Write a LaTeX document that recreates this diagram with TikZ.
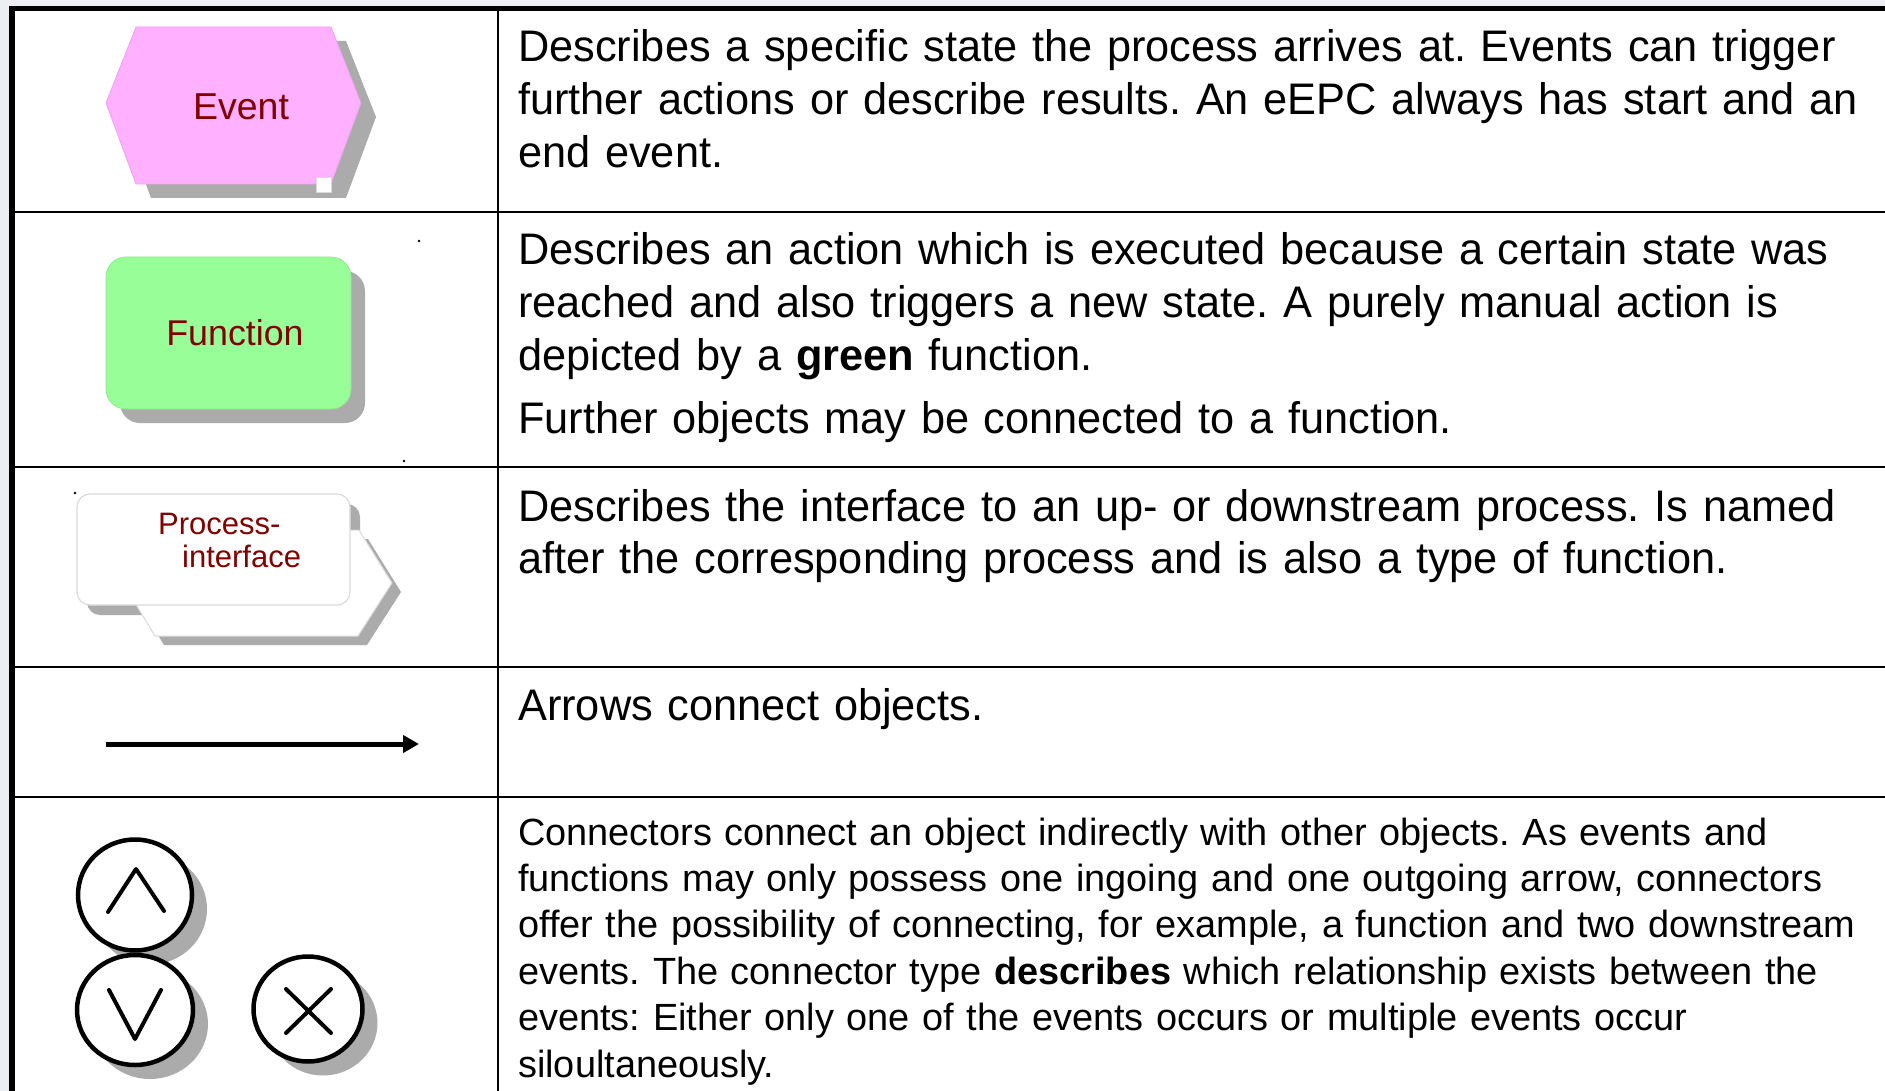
\documentclass[tikz,border=0pt]{standalone}
\usepackage{fontspec}
\setmainfont{Liberation Sans}
\newfontfamily\descfont[FakeStretch=0.98]{Liberation Sans}
\usetikzlibrary{arrows.meta}
\definecolor{margin}{HTML}{EDEEF2}
\definecolor{evpink}{HTML}{FFB0FF}
\definecolor{evedge}{HTML}{F0A0F0}
\definecolor{fngreen}{HTML}{98FF98}
\definecolor{fnedge}{HTML}{8CEB8C}
\definecolor{shadowgray}{HTML}{ABABAB}
\definecolor{paleedge}{HTML}{DADADA}
\definecolor{labelred}{RGB}{128,0,0}
\tikzset{
  rule/.style={line width=2.6pt, black},
  desc/.style={anchor=base west, inner sep=0pt, text width=1500pt, align=left,
    font=\descfont\frenchspacing\fontsize{44.2pt}{52.8pt}\selectfont},
  descsmall/.style={desc, font=\frenchspacing\fontsize{37.9pt}{46.4pt}\selectfont},
  symlabel/.style={text=labelred, inner sep=0pt},
  gate/.style={line width=4.5pt, draw=black, fill=white},
  gatesym/.style={line width=4pt, line cap=round, line join=round},
  speck/.style={fill=black},
}
\begin{document}
\begin{tikzpicture}[x=1pt, y=-1pt]
\useasboundingbox (0,0) rectangle (1885,1091);

% page margin and table body
\fill[margin] (0,0) rectangle (1885,1091);
\fill[white] (12,8) rectangle (1885,1091);

% table rules
\draw[rule] (12,212) -- (1885,212);
\draw[rule] (12,467) -- (1885,467);
\draw[rule] (12,667) -- (1885,667);
\draw[rule] (12,797) -- (1885,797);
\draw[rule] (498,8) -- (498,1091);
\draw[line width=5.5pt] (9,8.5) -- (1885,8.5);
\draw[line width=6pt] (12.3,6) -- (12.3,1091);

% ---- event ----
\fill[shadowgray] (151,41) -- (346,41) -- (376,117) -- (346,198) -- (151,198) -- (121,117) -- cycle;
\filldraw[fill=evpink, draw=evedge, line width=0.8pt]
  (136,27) -- (331,27) -- (361,103) -- (331,184) -- (136,184) -- (106,103) -- cycle;
\filldraw[fill=white, draw=paleedge, line width=0.6pt] (316,177) rectangle (331,192);
\node[symlabel, font=\fontsize{37.5pt}{44pt}\selectfont] (lEvent) at (241,107) {Event};

% ---- function ----
\fill[shadowgray, rounded corners=20pt] (120,271) rectangle (365,423);
\filldraw[fill=fngreen, draw=fnedge, line width=0.8pt, rounded corners=20pt] (106,257) rectangle (351,409);
\node[symlabel, font=\fontsize{35.8pt}{42pt}\selectfont] (lFunction) at (235,333) {Function};

% ---- process interface ----
\fill[shadowgray, rounded corners=13pt] (87,504) rectangle (360,615);
\fill[shadowgray] (164,539) -- (368,539) -- (401,592) -- (367,645) -- (164,645) -- (132,592) -- cycle;
\filldraw[fill=white, draw=paleedge, line width=1pt]
  (155,530) -- (359,530) -- (392,583) -- (358,636) -- (155,636) -- (123,583) -- cycle;
\filldraw[fill=white, draw=paleedge, line width=1.2pt, rounded corners=13pt] (77,494) rectangle (350,605);
\node[symlabel, anchor=base west, text width=220pt, align=left,
  font=\fontsize{31pt}{33pt}\selectfont] (lInterface) at (158,534) {Process-\\\hspace*{24pt}interface};

% ---- arrow ----
\coordinate (arrowStart) at (106,744);
\coordinate (arrowEnd) at (419,744);
\draw[line width=5pt, -{Triangle[length=16pt, width=17pt]}] (arrowStart) -- (arrowEnd);

% ---- connectors ----
\fill[shadowgray] (150,909) ellipse [x radius=57pt, y radius=55.5pt];
\draw[gate] (135,895) ellipse [x radius=57pt, y radius=55.5pt];
\draw[gatesym] (108,912) -- (136,869) -- (164,911);

\fill[shadowgray] (150,1024) ellipse [x radius=58pt, y radius=55pt];
\draw[gate] (135,1010) ellipse [x radius=58pt, y radius=55pt];
\draw[gatesym] (109,990) -- (135,1039) -- (161,990);

\fill[shadowgray] (323,1023) ellipse [x radius=54.5pt, y radius=52.5pt];
\draw[gate] (308,1009) ellipse [x radius=54.5pt, y radius=52.5pt];
\draw[gatesym] (286,989) -- (331,1033);
\draw[gatesym] (331,989) -- (286,1033);

% stray specks
\fill[speck] (419,241) circle (1.3pt);
\fill[speck] (404,461) circle (1.3pt);
\fill[speck] (75,493) circle (1.3pt);

% ---- descriptions ----
\node[desc] (dEvent) at (518,62) {Describes a specific state the process arrives at. Events can trigger\\
further actions or describe results. An eEPC always has start and an\\
end event.};

\node[desc] (dFunction) at (518,265) {Describes an action which is executed because a certain state was\\
reached and also triggers a new state. A purely manual action is\\
depicted by a \textbf{green} function.\\[10pt]
Further objects may be connected to a function.};

\node[desc] (dInterface) at (518,521) {Describes the interface to an up- or downstream process. Is named\\
after the corresponding process and is also a type of function.};

\node[desc] (dArrow) at (518,720) {Arrows connect objects.};

\node[descsmall] (dConnector) at (518,845) {Connectors connect an object indirectly with other objects. As events and\\
functions may only possess one ingoing and one outgoing arrow, connectors\\
offer the possibility of connecting, for example, a function and two downstream\\
events. The connector type \textbf{describes} which relationship exists between the\\
events: Either only one of the events occurs or multiple events occur\\
siloultaneously.};
\end{tikzpicture}
\end{document}
